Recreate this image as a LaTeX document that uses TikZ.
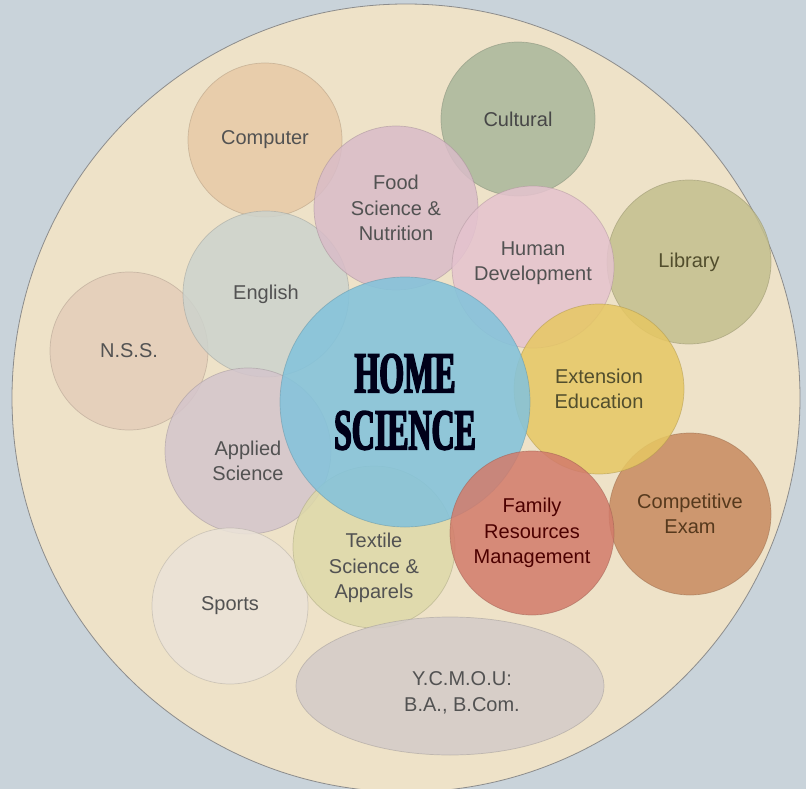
\documentclass[tikz,border=0pt]{standalone}
\usepackage{fontspec}
\setmainfont{Liberation Sans}
\newfontfamily\homefont[FakeStretch=0.55,FakeBold=2.6]{Liberation Serif}
\usetikzlibrary{shapes.geometric}
\definecolor{backdrop}{HTML}{C9D3DA}
\definecolor{plate}{HTML}{EEE2C8}
\definecolor{home}{HTML}{84C3DB}
\definecolor{computer}{HTML}{E8CAA6}
\definecolor{cultural}{HTML}{A9B79B}
\definecolor{food}{HTML}{D9BCC8}
\definecolor{human}{HTML}{E5C3CF}
\definecolor{library}{HTML}{C3BF8E}
\definecolor{english}{HTML}{CDD3CD}
\definecolor{nss}{HTML}{E4CDB9}
\definecolor{extension}{HTML}{E6C763}
\definecolor{applied}{HTML}{D4C5CC}
\definecolor{competitive}{HTML}{C88B60}
\definecolor{family}{HTML}{D27B6B}
\definecolor{textile}{HTML}{DED9A9}
\definecolor{sports}{HTML}{EBE3D8}
\definecolor{ycmou}{HTML}{D3CBC9}
\colorlet{ink}{black!68}

\begin{document}
\begin{tikzpicture}[x=1pt,y=-1pt,
  topic/.style={circle,fill=#1,draw=#1!75!black,draw opacity=0.5,line width=0.7pt,
    fill opacity=0.85,text opacity=1,text=ink,align=center,inner sep=0pt,
    font=\fontsize{20}{25.5}\selectfont},
  size/.style={minimum size=#1},
  caption/.style={text=ink,align=center,font=\fontsize{20}{25.5}\selectfont}]

\useasboundingbox[fill=backdrop] (0,0) rectangle (806,789);
\draw[fill=plate,draw=black!45,line width=0.8pt] (406,398) circle (394);

\node[topic=computer,size=154] (computer) at (265,140) {Computer};
\node[topic=cultural,size=154,text=black!72] (cultural) at (518,119) {Cultural};
\node[topic=nss,size=158] (nss) at (129,351) {N.S.S.};
\node[topic=english,size=166] (english) at (266,294) {English};
\node[topic=food,size=164] (food) at (396,208) {Food\\Science \&\\Nutrition};
\node[topic=library,size=164,text=black!55!olive] (library) at (689,262) {Library};
\node[topic=human,size=162] (human) at (533,267) {};
\node at (human.center) [caption,yshift=4pt] (humantext) {Human\\Development};
\node[topic=applied,size=166] (applied) at (248,451) {};
\node at (applied.center) [caption,yshift=-10pt] (appliedtext) {Applied\\Science};
\node[topic=sports,size=156] (sports) at (230,606) {Sports};
\node[topic=competitive,size=162,text=black!55!brown] (competitive) at (690,514) {Competitive\\Exam};
\node[topic=extension,size=170,text=black!55!olive] (extension) at (599,389) {Extension\\Education};
\node[topic=textile,size=162] (textile) at (374,547) {};
\node[topic=home,size=250,fill opacity=0.88] (home) at (405,402) {};
\node at (textile.center) [caption,yshift=-21pt] (textiletext) {Textile\\Science \&\\Apparels};
\node[topic=family,size=164,text=black!50!red!60!black] (family) at (532,533) {Family\\Resources\\Management};
\node at (home.center) [text=black!80!blue!50!black,align=center,
  font=\homefont\bfseries\fontsize{58}{57}\selectfont] (hometext) {HOME\\SCIENCE};
\node[topic=ycmou,ellipse,minimum width=308,minimum height=138] (ycmou) at (450,686) {};
\node at (462,693) [caption] (ycmoutext) {Y.C.M.O.U:\\B.A., B.Com.};

\end{tikzpicture}
\end{document}
